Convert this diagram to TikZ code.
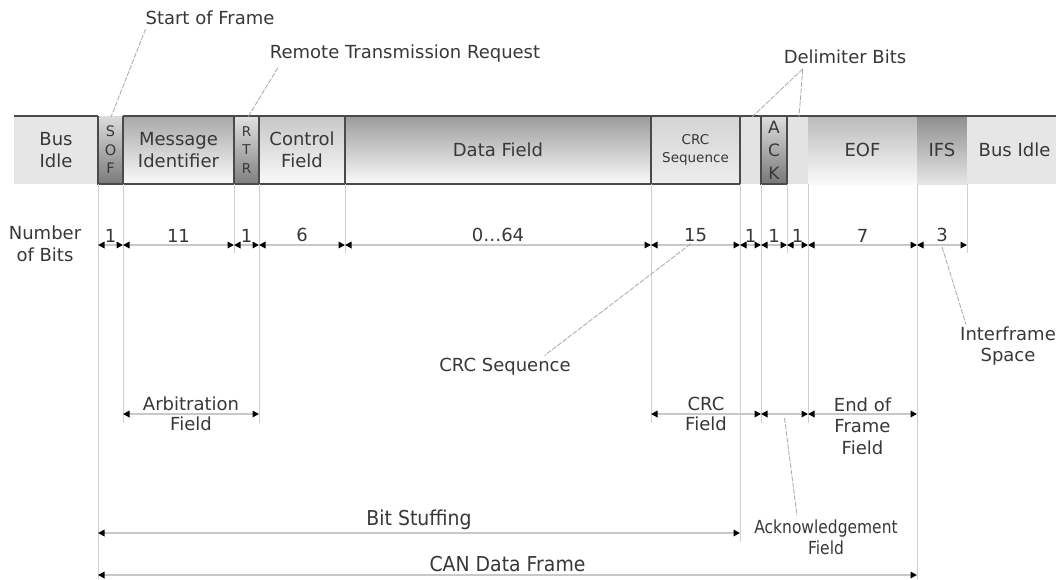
\documentclass[tikz,border=0pt]{standalone}
\usepackage{fontspec}
\setmainfont{DejaVu Sans}
\newfontfamily\condfont[FakeStretch=0.92]{DejaVu Sans}
\newfontfamily\condfontb[FakeStretch=0.86]{DejaVu Sans}
\usetikzlibrary{arrows.meta}
\definecolor{txt}{HTML}{383838}
\definecolor{frameline}{HTML}{4A4A4A}
\definecolor{guidec}{HTML}{D0D0D0}
\definecolor{dimc}{HTML}{C8C8C8}
\definecolor{leadc}{HTML}{A8A8A8}
\definecolor{idle}{HTML}{E6E6E6}
\definecolor{delimc}{HTML}{E3E3E3}
\begin{document}
\begin{tikzpicture}[x=1pt,y=-1pt,
  every node/.style={text=txt, font=\fontsize{18}{21.5}\selectfont, inner sep=0pt, outer sep=0pt},
  fieldbox/.style={minimum height=68pt, align=center},
  tiny/.style={font=\fontsize{14.5}{18.5}\selectfont},
  guide/.style={draw=guidec, line width=1pt},
  dimline/.style={draw=dimc, line width=1.8pt, {Triangle[length=6.5pt,width=6.5pt,color=black]}-{Triangle[length=6.5pt,width=6.5pt,color=black]}},
  leader/.style={draw=leadc, line width=0.8pt, dash pattern=on 5pt off 1.5pt},
  border/.style={draw=frameline, line width=1.6pt},
  num/.style={above=3pt}
]
\useasboundingbox (0,0) rectangle (1056,579);
\fill[white] (0,0) rectangle (1056,579);

% ---- frame fields ----
\node[fieldbox, minimum width=84pt, fill=idle] (busl) at (56,150) {Bus\\Idle};
\node[fieldbox, minimum width=25pt, top color=black!14, bottom color=black!52, tiny] (sof) at (110.5,150) {S\\O\\F};
\node[fieldbox, minimum width=111pt, top color=black!34, bottom color=black!2] (msg) at (178.5,150) {Message\\Identifier};
\node[fieldbox, minimum width=25pt, top color=black!12, bottom color=black!50, font=\fontsize{13.5}{18.5}\selectfont] (rtr) at (246.5,150) {R\\T\\R};
\node[fieldbox, minimum width=86pt, top color=black!22, bottom color=black!2] (ctl) at (302,150) {Control\\Field};
\node[fieldbox, minimum width=306pt, top color=black!39, bottom color=black!2] (data) at (498,150) {Data Field};
\node[fieldbox, minimum width=89pt, top color=black!17, bottom color=black!7, font=\fontsize{13.5}{18}\selectfont] (crc) at (695.5,150) {CRC\\Sequence};
\node[fieldbox, minimum width=21pt, fill=delimc] (dl1) at (750.5,150) {};
\node[fieldbox, minimum width=26pt, top color=black!13, bottom color=black!53, font=\fontsize{17}{23}\selectfont] (ack) at (774,150) {A\\C\\K};
\node[fieldbox, minimum width=21pt, fill=delimc] (dl2) at (797.5,150) {};
\node[fieldbox, minimum width=109pt, top color=black!27, bottom color=black!2] (eof) at (862.5,150) {EOF};
\node[fieldbox, minimum width=50pt, top color=black!44, bottom color=black!10] (ifs) at (942,150) {IFS};
\node[fieldbox, minimum width=89pt, fill=idle] (busr) at (1011.5,150) {\hspace*{6pt}Bus Idle};

% ---- borders ----
\draw[border] (busl.north west) -- (sof.north west);
\draw[border] (msg.north west) -- (busr.north east);
\draw[border] (sof.north west) -- (sof.south west) -- (crc.south east) -- (crc.north east);
\foreach \n in {sof,msg,rtr,ctl,data} \draw[border] (\n.north east) -- (\n.south east);
\draw[border] (ack.north west) rectangle (ack.south east);

% ---- guide lines ----
\draw[guide] (sof.south west) -- ++(0,395);
\draw[guide] (sof.south east) -- ++(0,239);
\draw[guide] (rtr.south west) -- ++(0,69);
\draw[guide] (rtr.south east) -- ++(0,239);
\draw[guide] (data.south west) -- ++(0,69);
\draw[guide] (data.south east) -- ++(0,239);
\draw[guide] (dl1.south west) -- ++(0,358);
\draw[guide] (ack.south west) -- ++(0,239);
\draw[guide] (ack.south east) -- ++(0,69);
\draw[guide] (eof.south west) -- ++(0,239);
\draw[guide] (eof.south east) -- ++(0,395);
\draw[guide] (ifs.south east) -- ++(0,69);

% ---- number of bits ----
\node[align=center] (nbits) at (45,244) {Number\\of Bits};
\foreach \nm/\xx in {b98/98,b123/123,b234/234,b259/259,b345/345,b651/651,b740/740,b761/761,b787/787,b808/808,b917/917,b967/967}
  \coordinate (\nm) at (\xx,245);
\draw[dimline] (b98) -- node[num] {1} (b123);
\draw[dimline] (b123) -- node[num] {11} (b234);
\draw[dimline] (b234) -- node[num] {1} (b259);
\draw[dimline] (b259) -- node[num] {6} (b345);
\draw[dimline] (b345) -- node[num] {0…64} (b651);
\draw[dimline] (b651) -- node[num] (n15) {15} (b740);
\draw[dimline] (b740) -- node[num] {1} (b761);
\draw[dimline] (b761) -- node[num] {1} (b787);
\draw[dimline] (b787) -- node[num] {1} (b808);
\draw[dimline] (b808) -- node[num] {7} (b917);
\draw[dimline] (b917) -- node[num] (n3) {3} (b967);

% ---- field groupings ----
\foreach \nm/\xx in {a123/123,a259/259,a651/651,a761/761,a808/808,a917/917}
  \coordinate (\nm) at (\xx,414);
\draw[dimline] (a123) -- node[align=center] {Arbitration\\[-1pt]Field} (a259);
\draw[dimline] (a651) -- node[align=center] {CRC\\[-1pt]Field} (a761);
\draw[dimline] (a761) -- coordinate (ackm) (a808);
\draw[dimline] (a808) -- node[align=center, yshift=-12pt] {End of\\Frame\\Field} (a917);

\coordinate (s98) at (98,533);
\coordinate (s740) at (740,533);
\draw[dimline] (s98) -- node[above=3pt, font=\condfont\fontsize{20.5}{22}\selectfont] {Bit Stuffing} (s740);
\coordinate (c98) at (98,575);
\coordinate (c917) at (917,575);
\draw[dimline] (c98) -- node[above=3pt, font=\condfont\fontsize{20.5}{22}\selectfont] {CAN Data Frame} (c917);

% ---- labels and leaders ----
\node (sofl) at (210,18) {Start of Frame};
\node (rtrl) at (405,54) {Remote Transmission Request};
\node (dlml) at (845,57) {Delimiter Bits};
\node (crcl) at (505,367) {CRC Sequence};
\node[align=center] (ifsl) at (1008,346) {Interframe\\Space};
\node[align=center, font=\condfontb\fontsize{18}{21}\selectfont] (ackl) at (826,537) {Acknowledgement\\Field};

\coordinate (sofe) at (111,117);
\coordinate (rtre) at (248,117);
\coordinate (dle1) at (752,117);
\coordinate (dle2) at (799,117);
\draw[leader] ([xshift=0pt,yshift=-4pt]sofl.south west) -- (sofe);
\draw[leader] ([xshift=8pt,yshift=-5pt]rtrl.south west) -- (rtre);
\draw[leader] ([xshift=19pt,yshift=-5pt]dlml.south west) -- (dle1);
\draw[leader] ([xshift=19pt,yshift=-5pt]dlml.south west) -- (dle2);
\draw[leader] ([xshift=-5pt,yshift=-2pt]n15.south) -- ([xshift=-26pt,yshift=3pt]crcl.north east);
\draw[leader] ([yshift=-5pt]n3.south) -- ([xshift=-42pt,yshift=2pt]ifsl.north);
\draw[leader] ([yshift=-4pt]ackm) -- ([xshift=-29pt,yshift=4pt]ackl.north);
\end{tikzpicture}
\end{document}
